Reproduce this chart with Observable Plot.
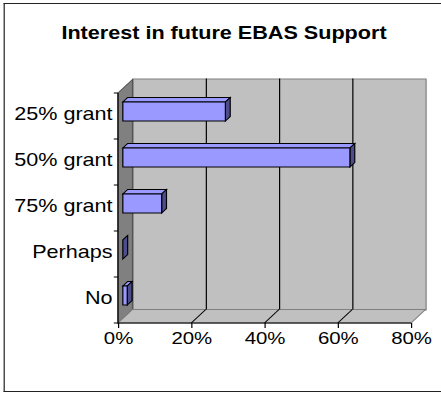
<!DOCTYPE html>
<html>
<head>
<meta charset="utf-8">
<script src="https://cdn.jsdelivr.net/npm/d3@7"></script>
<script src="https://cdn.jsdelivr.net/npm/@observablehq/plot@0.6"></script>
<style>
  html, body { margin: 0; padding: 0; background: #fff; overflow: hidden; width: 441px; height: 394px; }
  #wrap { position: absolute; left: 0; top: 0; height: 394px; transform-origin: 0 0; }
  #border { position: absolute; top: 3px; height: 389px; border: 1.5px solid #222; border-right: none; box-sizing: border-box; }
  #title { position: absolute; left: 0; top: 24px; text-align: center; font: bold 18px/18px "Liberation Sans", Arial, sans-serif; color: #000; white-space: nowrap; }
  #chart { position: absolute; left: 0; top: 0; }
</style>
</head>
<body>
<div id="wrap">
  <div id="border"></div>
  <div id="title"></div>
  <div id="chart"></div>
</div>
<script>
// ---- data ----
const titleText = "Interest in future EBAS Support";
const categories = ["25% grant", "50% grant", "75% grant", "Perhaps", "No"];
const values = [28, 62, 10.6, 0, 1.2];
const xTicks = [0, 20, 40, 60, 80];
const tickLabels = ["0%", "20%", "40%", "60%", "80%"];

const data = categories.map((c, i) => ({cat: c, value: values[i]}));

// ---- style / geometry constants ----
const S = 1.2;             // horizontal stretch of the whole picture
const W = 441 / S;
const DX = 14.5 / S, DY = -13.5;   // depth of the 3D box
const BAR_INSET = 13.5;

const wrap = document.getElementById("wrap");
wrap.style.width = W + "px";
wrap.style.transform = `scaleX(${S})`;
const border = document.getElementById("border");
border.style.left = (3 / S) + "px";
border.style.width = (438 / S) + "px";
const title = document.getElementById("title");
title.textContent = titleText;
title.style.width = (2 * 224 / S) + "px";

function poly(g, pts, fill, stroke) {
  g.append("path")
    .attr("d", "M" + pts.map(p => p.join(",")).join("L") + "Z")
    .attr("fill", fill)
    .attr("stroke", stroke || "none")
    .attr("stroke-width", 1)
    .attr("stroke-linejoin", "miter");
}
function line(g, a, b, stroke) {
  g.append("line").attr("x1", a[0]).attr("y1", a[1]).attr("x2", b[0]).attr("y2", b[1])
    .attr("stroke", stroke).attr("stroke-width", 1);
}
function box({x, y}) {
  const x0 = x(xTicks[0]), x1 = x(xTicks[xTicks.length - 1]);
  const top = y(categories[0]);
  const bot = y(categories[categories.length - 1]) + y.bandwidth();
  return {x0, x1, top, bot};
}

// left wall + floor
const walls = (index, scales) => {
  const {x0, x1, top, bot} = box(scales);
  const g = d3.create("svg:g");
  poly(g, [[x0, top], [x0 + DX, top + DY], [x0 + DX, bot + DY], [x0, bot]], "#808080", "#555");
  poly(g, [[x0, bot], [x0 + DX, bot + DY], [x1 + DX, bot + DY], [x1, bot]], "#c0c0c0", "#808080");
  return g.node();
};

// floor gridlines (diagonals)
const floorLines = (index, scales) => {
  const {bot} = box(scales);
  const g = d3.create("svg:g");
  xTicks.slice(1, -1).forEach(v => {
    const xv = scales.x(v);
    line(g, [xv, bot], [xv + DX, bot + DY], "#000");
  });
  return g.node();
};

// front axis lines and category boundary ticks
const axisLines = (index, scales) => {
  const {x0, x1, top, bot} = box(scales);
  const g = d3.create("svg:g");
  line(g, [x0, top], [x0, bot], "#000");
  line(g, [x0, bot], [x1, bot], "#000");
  categories.forEach(c => {
    const yb = scales.y(c);
    line(g, [x0 - 3.5, yb], [x0, yb], "#000");
  });
  line(g, [x0 - 3.5, bot], [x0, bot], "#000");
  return g.node();
};

// side and top faces of the bars
const barFaces = (index, {x, y}) => {
  const g = d3.create("svg:g");
  const bw = y.bandwidth();
  const ddx = DX / 3, ddy = DY / 3;
  data.forEach(d => {
    const xs = x(0) + ddx, xe = x(d.value) + ddx;
    const yt = y(d.cat) + BAR_INSET + ddy, yb = y(d.cat) + bw - BAR_INSET + ddy;
    poly(g, [[xs, yt], [xs + ddx, yt + ddy], [xe + ddx, yt + ddy], [xe, yt]], "#9999ff", "#000");
    poly(g, [[xe, yt], [xe + ddx, yt + ddy], [xe + ddx, yb + ddy], [xe, yb]], "#4d4d8c", "#000");
  });
  return g.node();
};

const chart = Plot.plot({
  width: W,
  height: 394,
  marginLeft: 118 / S,
  marginRight: (441 - 411) / S,
  marginTop: 92,
  marginBottom: 71,
  x: {domain: [xTicks[0], xTicks[xTicks.length - 1]], label: null},
  y: {domain: categories, padding: 0, label: null},
  style: {fontFamily: '"Liberation Sans", Arial, sans-serif', background: "transparent", color: "#000", overflow: "visible"},
  marks: [
    Plot.frame({fill: "#c0c0c0", stroke: "#808080", dx: DX, dy: DY}),
    walls,
    Plot.ruleX(xTicks.slice(1, -1), {stroke: "#000", strokeOpacity: 1, dx: DX, dy: DY}),
    floorLines,
    Plot.axisY({tickSize: 0, tickPadding: 6 / S, fontSize: 18, label: null, dy: -2}),
    Plot.axisX({ticks: xTicks, tickFormat: (d) => tickLabels[xTicks.indexOf(d)], tickSize: 5, tickPadding: 3, fontSize: 17, label: null, strokeOpacity: 1}),
    axisLines,
    barFaces,
    Plot.barX(data, {x: "value", y: "cat", fill: "#9999ff", stroke: "#000", insetTop: BAR_INSET, insetBottom: BAR_INSET, dx: DX / 3, dy: DY / 3})
  ]
});
chart.style.width = W + "px";
chart.style.height = "394px";
chart.style.maxWidth = "none";
document.getElementById("chart").appendChild(chart);
</script>
</body>
</html>
